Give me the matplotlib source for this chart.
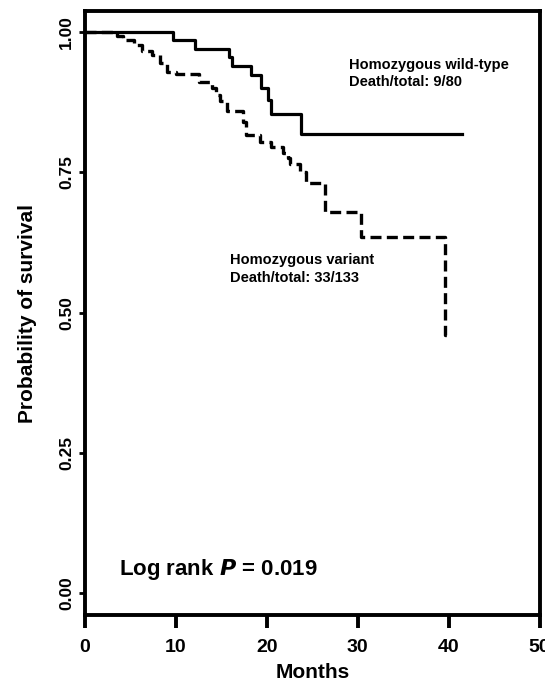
import matplotlib
matplotlib.use('Agg')
import matplotlib.pyplot as plt

plt.rcParams['font.family'] = ['Liberation Sans', 'DejaVu Sans']
plt.rcParams['font.weight'] = 'bold'

# Kaplan-Meier steps (months, survival after the step)
wt_months = [0, 9.7, 12.1, 15.8, 16.2, 18.3, 19.4, 20.1, 20.5, 23.8, 41.5]
wt_surv = [1.0, 0.986, 0.970, 0.955, 0.939, 0.924, 0.900, 0.880, 0.854, 0.818, 0.818]

var_months = [0, 3.5, 4.2, 5.4, 6.3, 7.4, 8.2, 9.0, 10.0, 12.5, 14.0, 14.4, 14.8,
              15.6, 17.4, 17.7, 19.3, 20.5, 21.8, 22.3, 22.6, 23.6, 24.3, 26.4,
              30.4, 39.6, 40.2]
var_surv = [1.0, 0.993, 0.987, 0.978, 0.966, 0.960, 0.945, 0.930, 0.925, 0.911,
            0.900, 0.888, 0.878, 0.860, 0.840, 0.817, 0.805, 0.795, 0.785, 0.775,
            0.765, 0.750, 0.731, 0.680, 0.635, 0.460, 0.460]

x_ticks = [0, 10, 20, 30, 40, 50]
y_ticks = [0.0, 0.25, 0.5, 0.75, 1.0]

fig = plt.figure(figsize=(5.45, 6.82), dpi=100)
ax = fig.add_axes([0.156, 0.098, 0.834, 0.886])

ax.step(wt_months, wt_surv, where='post', color='black', lw=2.3)
ax.step(var_months, var_surv, where='post', color='black', lw=2.4,
        linestyle=(0, (3.3, 1.6)))

ax.set_xlim(0, 50)
ax.set_ylim(-0.039, 1.038)
ax.set_xticks(x_ticks)
ax.set_xticklabels([str(t) for t in x_ticks], fontsize=14, fontweight='bold')
ax.set_yticks(y_ticks)
ax.set_yticklabels(['%.2f' % t for t in y_ticks], fontsize=12.5, fontweight='bold',
                   rotation=90, va='center')

for s in ax.spines.values():
    s.set_linewidth(2.8)
ax.tick_params(axis='x', length=9, width=2.8, pad=8)
ax.tick_params(axis='y', length=4, width=2.0, pad=4)

ax.set_xlabel('Months', fontsize=15, fontweight='bold', labelpad=5)
ax.set_ylabel('Probability of survival', fontsize=15, fontweight='bold', labelpad=16)

ax.text(29.0, 0.927, 'Homozygous wild-type\nDeath/total: 9/80', fontsize=10.5,
        fontweight='bold', va='center', ha='left', linespacing=1.3)
ax.text(15.9, 0.578, 'Homozygous variant\nDeath/total: 33/133', fontsize=10.5,
        fontweight='bold', va='center', ha='left', linespacing=1.3)
ax.text(3.7, 0.042, r'Log rank $\boldsymbol{P}$ = 0.019', fontsize=16,
        fontweight='bold', va='center', ha='left')

fig.savefig('out.png', dpi=100)
